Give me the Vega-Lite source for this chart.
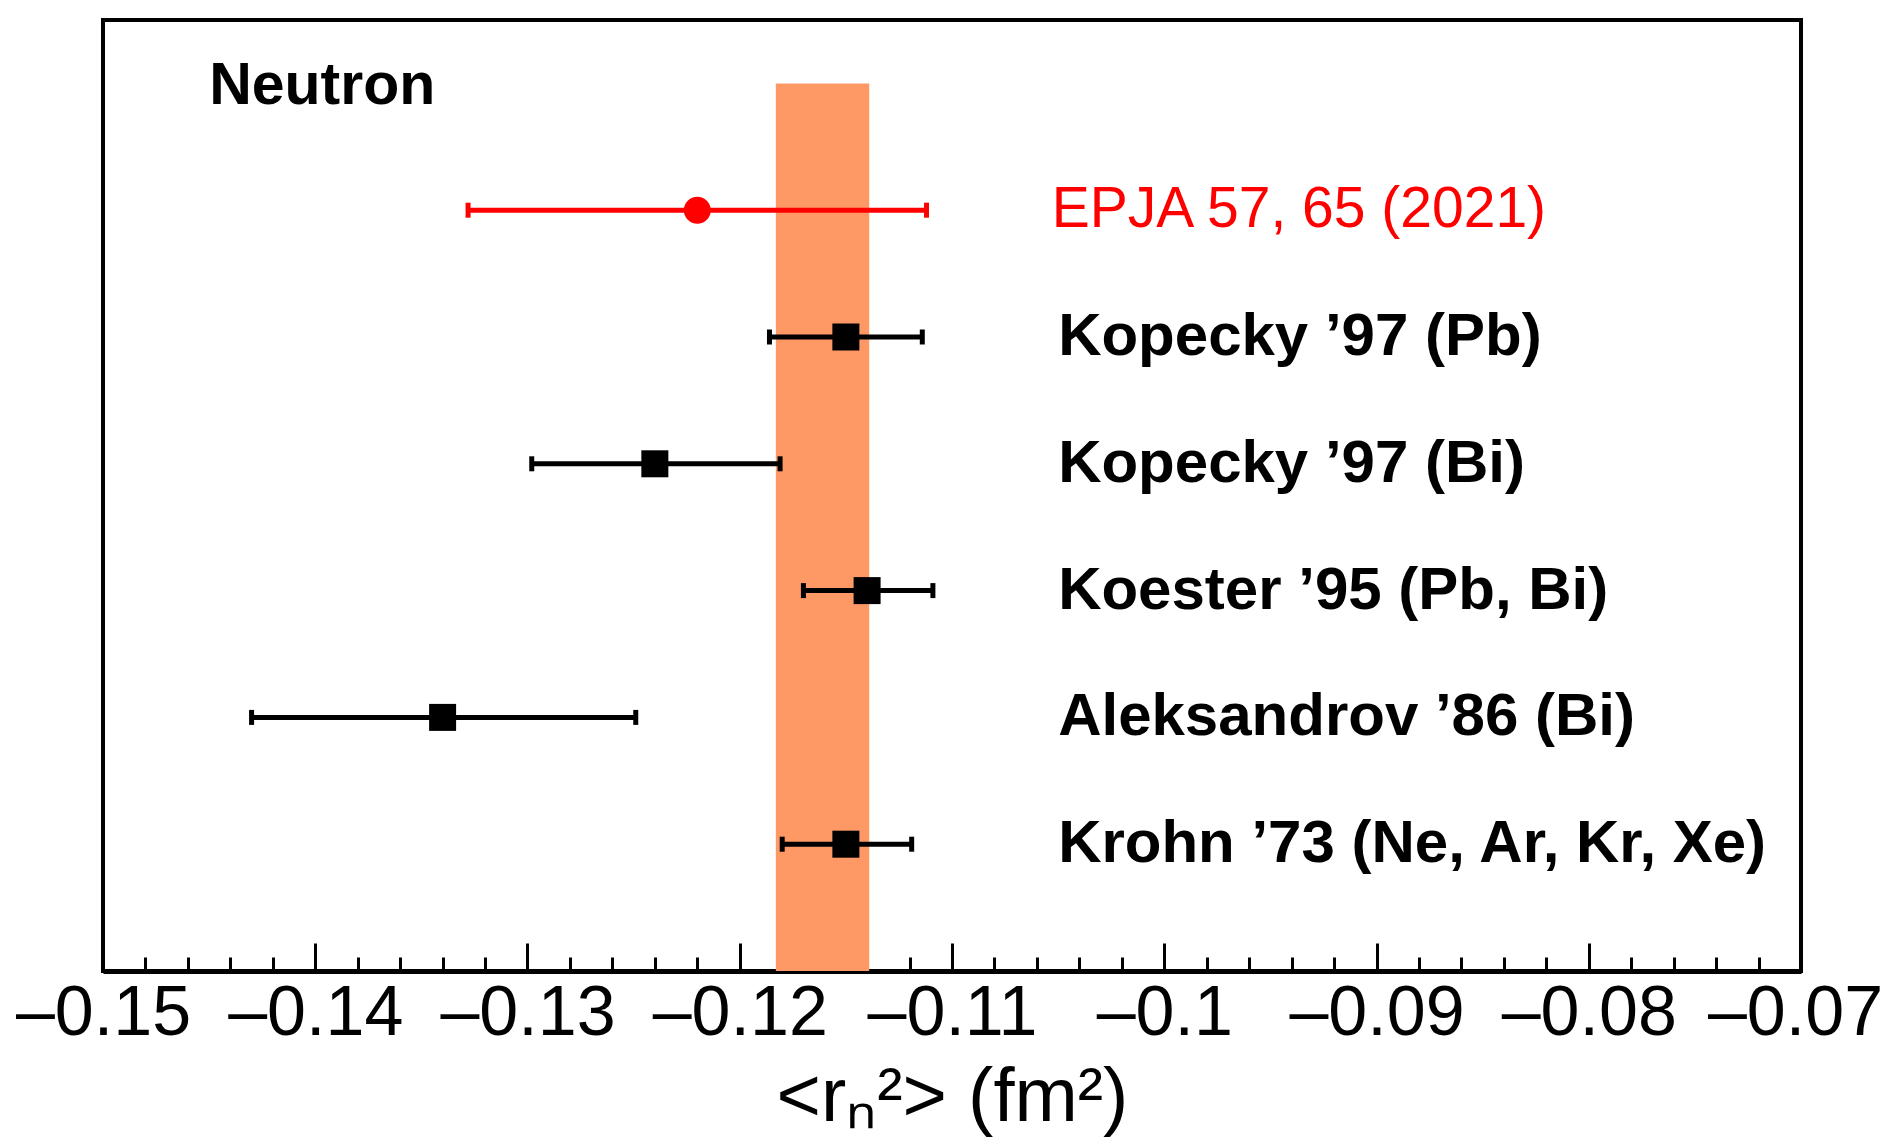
{
  "$schema": "https://vega.github.io/schema/vega-lite/v6.json",
  "autosize": {"type": "none"},
  "padding": {"left": 103, "top": 20, "right": 85, "bottom": 175},
  "width": 1698,
  "height": 951,
  "background": "white",
  "config": {
    "view": {"stroke": "black", "strokeWidth": 4},
    "axis": {"grid": false}
  },
  "datasets": {
    "measurements": [
      {"name": "EPJA 57, 65 (2021)", "row": 6, "val": -0.122, "lo": -0.1328, "hi": -0.1112, "kind": "this"},
      {"name": "Kopecky ’97 (Pb)", "row": 5, "val": -0.115, "lo": -0.1186, "hi": -0.1114, "kind": "prev"},
      {"name": "Kopecky ’97 (Bi)", "row": 4, "val": -0.124, "lo": -0.1298, "hi": -0.1181, "kind": "prev"},
      {"name": "Koester ’95 (Pb, Bi)", "row": 3, "val": -0.114, "lo": -0.117, "hi": -0.1109, "kind": "prev"},
      {"name": "Aleksandrov ’86 (Bi)", "row": 2, "val": -0.134, "lo": -0.143, "hi": -0.1249, "kind": "prev"},
      {"name": "Krohn ’73 (Ne, Ar, Kr, Xe)", "row": 1, "val": -0.115, "lo": -0.118, "hi": -0.1119, "kind": "prev"}
    ],
    "band": [
      {"lo": -0.1183, "hi": -0.1139, "bottom": 0, "top": 7}
    ],
    "panel": [
      {"label": "Neutron", "x": -0.145, "row": 7}
    ]
  },
  "resolve": {"axis": {"x": "independent"}},
  "layer": [
    {
      "data": {"name": "band"},
      "mark": {"type": "rect", "color": "#FE9966"},
      "encoding": {
        "x": {
          "field": "lo", "type": "quantitative",
          "scale": {"domain": [-0.15, -0.07], "nice": false, "zero": false},
          "axis": {
            "orient": "bottom",
            "values": [-0.148, -0.146, -0.144, -0.142, -0.138, -0.136, -0.134, -0.132, -0.128, -0.126, -0.124, -0.122, -0.118, -0.116, -0.114, -0.112, -0.108, -0.106, -0.104, -0.102, -0.098, -0.096, -0.094, -0.092, -0.088, -0.086, -0.084, -0.082, -0.078, -0.076, -0.074, -0.072],
            "labels": false, "domain": false, "title": null,
            "ticks": true, "tickSize": -14, "tickWidth": 3, "tickColor": "black"
          }
        },
        "x2": {"field": "hi"},
        "y": {
          "field": "bottom", "type": "quantitative",
          "scale": {"domain": [0, 7.5], "nice": false, "zero": false},
          "axis": null
        },
        "y2": {"field": "top"}
      }
    },
    {
      "data": {"name": "measurements"},
      "mark": {"type": "rule", "strokeWidth": 5},
      "encoding": {
        "x": {
          "field": "lo", "type": "quantitative",
          "axis": {
            "orient": "bottom",
            "values": [-0.15, -0.14, -0.13, -0.12, -0.11, -0.1, -0.09, -0.08, -0.07],
            "labelExpr": "'–' + format(abs(datum.value), '.2~f')",
            "labelFont": "Liberation Sans",
            "labelFontSize": 70,
            "labelColor": "black",
            "labelPadding": 36,
            "labelLimit": 0,
            "labelFlush": false,
            "labelOverlap": false,
            "labelBound": false,
            "labelOffset": {"condition": {"test": "datum.value > -0.075", "value": -6}, "value": 0},
            "tickSize": -28,
            "tickWidth": 3,
            "tickColor": "black",
            "domain": true,
            "domainColor": "black",
            "domainWidth": 5,
            "title": "<rₙ²> (fm²)",
            "titleFont": "Liberation Sans",
            "titleFontSize": 76,
            "titleFontWeight": "normal",
            "titleColor": "black",
            "titlePadding": 12,
            "titleLimit": 0
          }
        },
        "x2": {"field": "hi"},
        "y": {"field": "row", "type": "quantitative", "axis": null},
        "color": {
          "field": "kind", "type": "nominal",
          "scale": {"domain": ["this", "prev"], "range": ["#FF0000", "#000000"]},
          "legend": null
        }
      }
    },
    {
      "data": {"name": "measurements"},
      "mark": {"type": "tick", "orient": "vertical", "size": 15, "thickness": 5, "opacity": 1},
      "encoding": {
        "x": {"field": "lo", "type": "quantitative", "axis": null},
        "y": {"field": "row", "type": "quantitative", "axis": null},
        "color": {"field": "kind", "type": "nominal", "legend": null}
      }
    },
    {
      "data": {"name": "measurements"},
      "mark": {"type": "tick", "orient": "vertical", "size": 15, "thickness": 5, "opacity": 1},
      "encoding": {
        "x": {"field": "hi", "type": "quantitative", "axis": null},
        "y": {"field": "row", "type": "quantitative", "axis": null},
        "color": {"field": "kind", "type": "nominal", "legend": null}
      }
    },
    {
      "data": {"name": "measurements"},
      "mark": {"type": "point", "filled": true, "opacity": 1, "size": 729},
      "encoding": {
        "x": {"field": "val", "type": "quantitative", "axis": null},
        "y": {"field": "row", "type": "quantitative", "axis": null},
        "color": {"field": "kind", "type": "nominal", "legend": null},
        "shape": {
          "field": "kind", "type": "nominal",
          "scale": {"domain": ["this", "prev"], "range": ["circle", "square"]},
          "legend": null
        }
      }
    },
    {
      "data": {"name": "measurements"},
      "transform": [{"filter": "datum.kind === 'prev'"}],
      "mark": {"type": "text", "align": "left", "baseline": "middle", "font": "Liberation Sans", "fontWeight": "bold", "fontSize": 60, "color": "black"},
      "encoding": {
        "x": {"datum": -0.105, "type": "quantitative", "axis": null},
        "y": {"field": "row", "type": "quantitative", "axis": null},
        "text": {"field": "name"}
      }
    },
    {
      "data": {"name": "measurements"},
      "transform": [{"filter": "datum.kind === 'this'"}],
      "mark": {"type": "text", "align": "left", "baseline": "middle", "font": "Liberation Sans", "fontWeight": "normal", "fontSize": 57, "color": "#FF0000"},
      "encoding": {
        "x": {"datum": -0.1053, "type": "quantitative", "axis": null},
        "y": {"field": "row", "type": "quantitative", "axis": null},
        "text": {"field": "name"}
      }
    },
    {
      "data": {"name": "panel"},
      "mark": {"type": "text", "align": "left", "baseline": "middle", "font": "Liberation Sans", "fontWeight": "bold", "fontSize": 59, "color": "black", "dy": 3},
      "encoding": {
        "x": {"field": "x", "type": "quantitative", "axis": null},
        "y": {"field": "row", "type": "quantitative", "axis": null},
        "text": {"field": "label"}
      }
    }
  ]
}
